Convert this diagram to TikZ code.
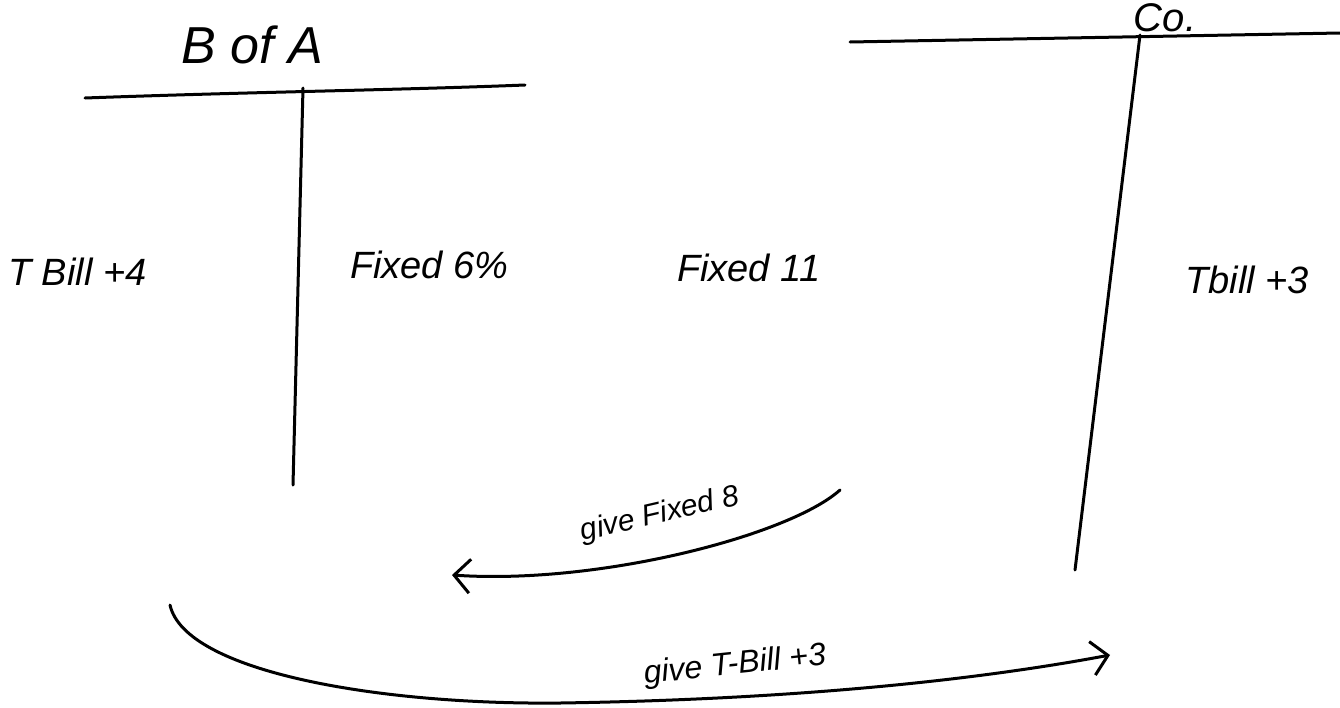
\documentclass[tikz,border=0pt]{standalone}
\usepackage{fontspec}
\setmainfont{Liberation Sans}
\usetikzlibrary{arrows.meta}
\tikzset{
  pen/.style={line width=3pt, line cap=round, line join=round},
  hand/.style={font=\fontsize{38}{40}\selectfont\itshape, inner sep=0pt},
  bigtitle/.style={font=\fontsize{52}{56}\selectfont\itshape, inner sep=0pt},
  small/.style={font=\fontsize{30}{32}\selectfont\itshape, inner sep=0pt},
  barb/.style={-{Straight Barb[length=16pt,width=34pt,line width=3pt]}}
}
\begin{document}
\begin{tikzpicture}[x=1pt,y=-1pt]
\useasboundingbox[fill=white] (0,0) rectangle (1340,707);
% left T
\coordinate (aL) at (85,98);
\coordinate (aR) at (525,85);
\coordinate (aT) at (303,88);
\coordinate (aB) at (293,485);
\draw[pen] (aL) .. controls (250,92) and (400,90) .. (aR);
\draw[pen] (aT) -- (aB);
\node[bigtitle] (boa) at (252,45) {B of A};
% right T
\coordinate (cL) at (850,42);
\coordinate (cR) at (1340,33);
\coordinate (cT) at (1140,35);
\coordinate (cB) at (1075,570);
\draw[pen] (cL) -- (cR);
\draw[pen] (cT) -- (cB);
\node[font=\fontsize{40}{42}\selectfont\itshape, inner sep=0pt, anchor=south] (co) at (1165,32) {Co.};
% labels
\node[hand, anchor=west] (tb4) at (8,272) {T Bill +4};
\node[hand, anchor=west] (f6) at (350,265) {Fixed 6\%};
\node[hand, anchor=west] (f11) at (677,268) {Fixed 11};
\node[hand, anchor=west] (tb3) at (1185,280) {Tbill +3};
% arrow give fixed 8
\coordinate (g1s) at (840,490);
\coordinate (g1e) at (452,575);
\draw[pen, barb] (g1s) .. controls (790,535) and (600,585) .. (g1e);
\node[small, rotate=13] (gf8) at (660,515) {give Fixed 8};
% big arrow give T-Bill +3
\coordinate (g2s) at (170,605);
\coordinate (g2m) at (560,703);
\coordinate (g2e) at (1110,655);
\draw[pen, barb] (g2s) .. controls (185,672) and (380,705) .. (g2m)
  .. controls (760,700) and (950,685) .. (g2e);
\node[small, font=\fontsize{32}{34}\selectfont\itshape, rotate=6] (gtb) at (735,666) {give T-Bill +3};
\end{tikzpicture}
\end{document}
